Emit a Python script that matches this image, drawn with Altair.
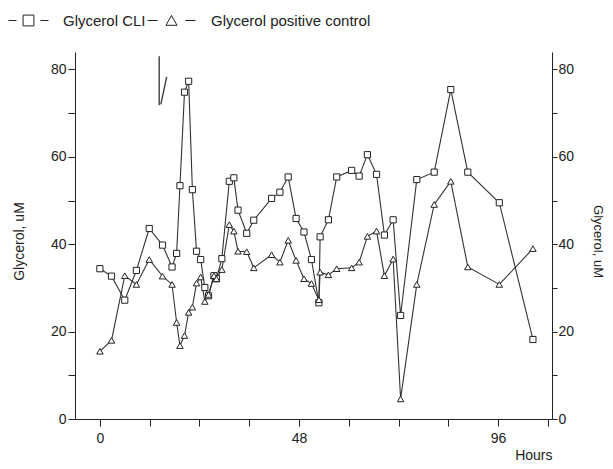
import altair as alt
import pandas as pd

# ---------------- data ----------------
hours = [0, 2.8, 6.0, 8.8, 11.9, 15.1, 17.4, 18.5, 19.3, 20.4, 21.4, 22.3, 23.3, 24.3,
         25.3, 26.2, 27.5, 28.1, 29.4, 31.2, 32.3, 33.3, 35.4, 37.1, 41.4, 43.4, 45.4,
         47.3, 49.2, 51.0, 52.8, 53.1, 55.1, 57.1, 60.7, 62.5, 64.5, 66.7, 68.6, 70.7,
         72.5, 76.4, 80.6, 84.6, 88.7, 96.3, 104.4]
glycerol_cli = [34.4, 32.7, 27.2, 34.0, 43.6, 39.8, 34.8, 37.9, 53.4, 74.8,
                77.3, 52.5, 38.4, 36.5, 30.1, 28.2, 32.8, 32.1, 36.7, 54.4,
                55.2, 47.8, 42.5, 45.5, 50.5, 51.9, 55.4, 45.9, 42.8, 36.5,
                26.6, 41.7, 45.6, 55.4, 56.9, 55.6, 60.5, 56.0, 42.1, 45.6,
                23.7, 54.8, 56.5, 75.4, 56.5, 49.5, 18.2]
glycerol_ctrl = [15.5, 18.0, 32.8, 30.8, 36.5, 32.7, 30.8, 22.1, 16.8, 19.1,
                 24.4, 25.6, 31.1, 32.5, 26.9, 28.5, 32.8, 32.1, 34.2, 44.5,
                 43.0, 38.4, 38.3, 34.6, 37.6, 35.9, 40.9, 36.3, 32.1, 31.0,
                 27.3, 33.6, 33.0, 34.4, 34.6, 35.9, 41.8, 43.0, 32.8, 36.6,
                 4.6, 30.8, 49.1, 54.4, 34.8, 30.8, 39.0]
series_names = ["Glycerol CLI", "Glycerol positive control"]

x_ticks = list(range(0, 109, 12))
y_ticks = list(range(0, 81, 10))
x_domain = [-6, 109]
y_domain = [0, 84]

# stray pen strokes visible in the original figure (in data units)
stroke_x1 = [14.3, 16.1]
stroke_y1 = [83.0, 78.3]
stroke_x2 = [14.3, 14.7]
stroke_y2 = [71.8, 72.0]

df_cli = pd.DataFrame({"Hours": hours, "Glycerol": glycerol_cli, "Series": series_names[0]})
df_ctrl = pd.DataFrame({"Hours": hours, "Glycerol": glycerol_ctrl, "Series": series_names[1]})
df_strokes = pd.DataFrame({"x1": stroke_x1, "y1": stroke_y1, "x2": stroke_x2, "y2": stroke_y2})

FONT = "Liberation Sans"
INK = "#222222"
LINE = "#333333"

SQ_PATH = "M-1,0H-0.6M0.6,0H1M-0.27,-0.27H0.27V0.27H-0.27Z"
TRI_PATH = "M-1,0H-0.58M0.58,0H1M0,-0.21L0.23,0.2L-0.23,0.2Z"

xscale = alt.Scale(domain=x_domain, nice=False, zero=False)
yscale = alt.Scale(domain=y_domain, nice=False, zero=False)

x_axis = alt.Axis(values=x_ticks, labelExpr="datum.value % 48 === 0 ? datum.label : ''",
                  title="Hours", tickSize=7, labelPadding=5, labelFlush=False,
                  labelOverlap=False, titleAlign="right", titleAnchor="end",
                  titleX=477, titleY=40, titleBaseline="alphabetic",
                  labelFontSize=14, titleFontSize=14)
x_enc = alt.X("Hours:Q", scale=xscale, axis=x_axis)

y_left = alt.Y("Glycerol:Q", scale=yscale,
               axis=alt.Axis(orient="left", values=y_ticks,
                             labelExpr="datum.value % 20 === 0 ? datum.label : ''",
                             tickSize=7, labelPadding=2, labelOverlap=False,
                             title="Glycerol, uM", titleAngle=270, titleX=-56, titleY=189,
                             titleAlign="center", titleBaseline="middle",
                             labelFontSize=14, titleFontSize=14))
y_right = alt.Y("Glycerol:Q", scale=yscale,
                axis=alt.Axis(orient="right", values=y_ticks,
                              labelExpr="datum.value % 20 === 0 ? datum.label : ''",
                              tickSize=5, labelPadding=1, labelOverlap=False,
                              title="Glycerol, uM", titleAngle=90, titleX=45, titleY=189,
                              titleAlign="center", titleBaseline="middle",
                              labelFontSize=14, titleFontSize=13))
y_none = alt.Y("Glycerol:Q", scale=yscale, axis=None)

strokes = alt.Chart(df_strokes).mark_rule(color=LINE, strokeWidth=1.3).encode(
    x=alt.X("x1:Q", scale=xscale, axis=x_axis), x2="x2:Q",
    y=alt.Y("y1:Q", scale=yscale, axis=None), y2="y2:Q")

line_cli = alt.Chart(df_cli).mark_line(color=LINE, strokeWidth=1.1).encode(
    x=x_enc, y=y_left)
line_ctrl = alt.Chart(df_ctrl).mark_line(color=LINE, strokeWidth=1.1).encode(
    x=x_enc, y=y_right)

pts_cli = alt.Chart(df_cli).mark_point(shape="square", size=38, filled=False, fill="white",
                                       strokeWidth=1, opacity=1).encode(
    x=x_enc, y=y_none,
    color=alt.Color("Series:N", scale=alt.Scale(domain=[series_names[0]], range=[INK]),
                    legend=alt.Legend(title=None, orient="none", legendX=-67, legendY=-52,
                                      symbolType=SQ_PATH, symbolSize=1600,
                                      symbolStrokeWidth=1, symbolFillColor="white",
                                      labelOffset=14, labelFont=FONT, labelFontSize=15,
                                      labelColor=INK, padding=0)))
pts_ctrl = alt.Chart(df_ctrl).mark_point(shape="triangle-up", size=42, filled=False, fill="white",
                                         strokeWidth=1, opacity=1).encode(
    x=x_enc, y=y_none,
    color=alt.Color("Series:N", scale=alt.Scale(domain=[series_names[1]], range=[INK]),
                    legend=alt.Legend(title=None, orient="none", legendX=72, legendY=-56,
                                      symbolType=TRI_PATH, symbolSize=2304,
                                      symbolStrokeWidth=1, symbolFillColor="white",
                                      labelOffset=15, labelFont=FONT, labelFontSize=15,
                                      labelColor=INK, padding=0)))

chart = alt.layer(strokes, line_cli, line_ctrl, pts_cli, pts_ctrl).resolve_scale(
    y="independent", color="independent"
).properties(
    width=477, height=367,
    autosize=alt.AutoSizeParams(type="none"),
    padding={"left": 67, "top": 44, "right": 53, "bottom": 42},
).configure_view(stroke=None).configure_axis(
    domainColor=INK, tickColor=INK, labelColor=INK, titleColor=INK,
    labelFont=FONT, titleFont=FONT, titleFontWeight="normal", grid=False,
    domainWidth=1, tickWidth=1,
)

chart.save("out.html", embed_options={"renderer": "svg", "actions": False})
